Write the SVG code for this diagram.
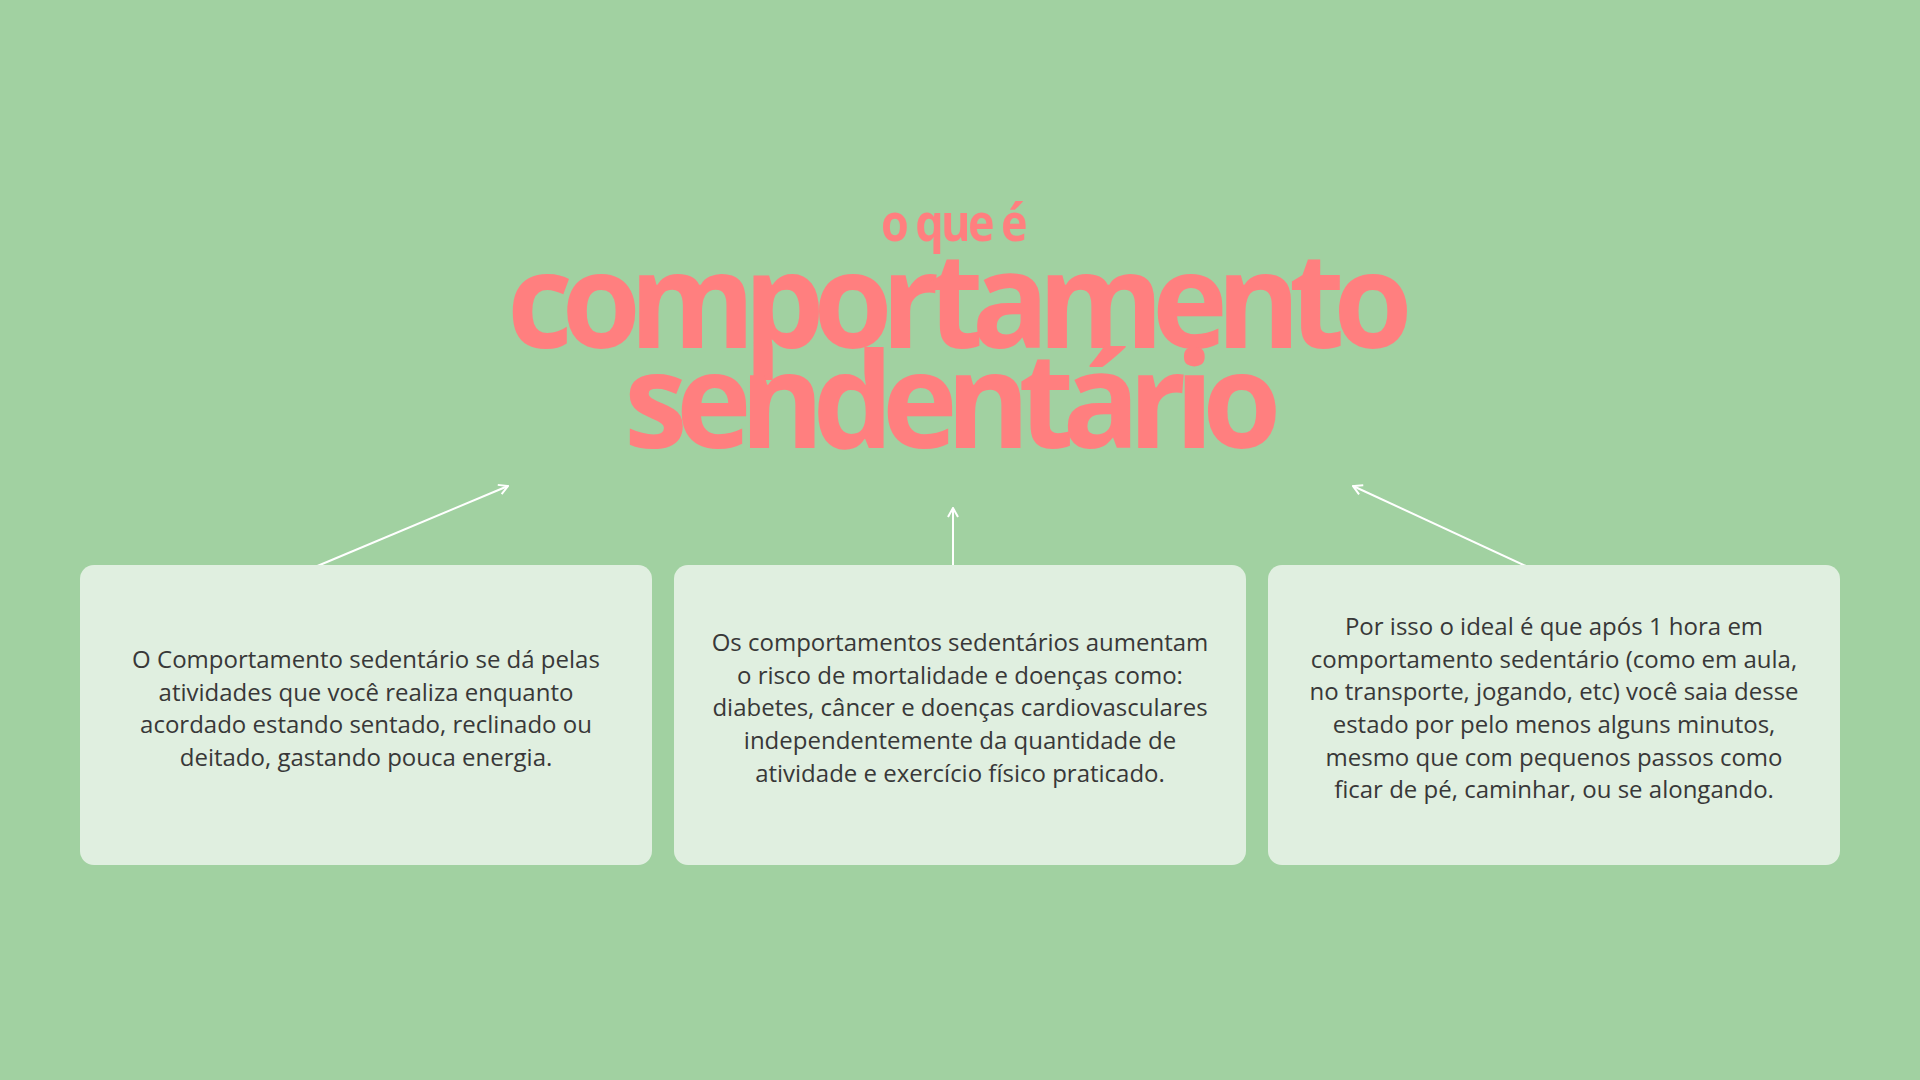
<svg xmlns="http://www.w3.org/2000/svg" width="1920" height="1080" viewBox="0 0 1920 1080">
<defs>
<style>
.bg{fill:#A1D1A1}
.box{fill:#E0EFE0}
.title{font-family:"Open Sans","Liberation Sans",sans-serif;font-weight:700;fill:#FF7F7F;text-anchor:middle}
.body{font-family:"Open Sans","Liberation Sans",sans-serif;font-size:24px;fill:#383838;text-anchor:middle}
.conn{stroke:#FFFFFF;stroke-width:2;fill:none;marker-end:url(#arr)}
</style>
<marker id="arr" viewBox="0 0 12 12" refX="11" refY="6" markerWidth="12" markerHeight="12" markerUnits="userSpaceOnUse" orient="auto">
<path d="M2,1 L11,6 L2,11" fill="none" stroke="#FFFFFF" stroke-width="2"/>
</marker>
</defs>
<rect class="bg" x="0" y="0" width="1920" height="1080"/>
<g id="title">
<text class="title" x="953" y="241" font-size="52" letter-spacing="-3" textLength="144" lengthAdjust="spacingAndGlyphs">o que é</text>
<text class="title" x="954" y="348" font-size="133" letter-spacing="-12" textLength="894" lengthAdjust="spacingAndGlyphs">comportamento</text>
<text class="title" x="947" y="448" font-size="133" letter-spacing="-12" textLength="646" lengthAdjust="spacingAndGlyphs">sendentário</text>
</g>
<g id="connectors">
<line class="conn" x1="315" y1="567" x2="508" y2="486"/>
<line class="conn" x1="953" y1="567" x2="953" y2="508"/>
<line class="conn" x1="1528" y1="567" x2="1353" y2="486"/>
</g>
<g id="node1">
<rect class="box" x="80" y="565" width="572" height="300" rx="14"/>
<text class="body" x="366" y="668">O Comportamento sedentário se dá pelas</text>
<text class="body" x="366" y="701">atividades que você realiza enquanto</text>
<text class="body" x="366" y="733">acordado estando sentado, reclinado ou</text>
<text class="body" x="366" y="766">deitado, gastando pouca energia.</text>
</g>
<g id="node2">
<rect class="box" x="674" y="565" width="572" height="300" rx="14"/>
<text class="body" x="960" y="651">Os comportamentos sedentários aumentam</text>
<text class="body" x="960" y="684">o risco de mortalidade e doenças como:</text>
<text class="body" x="960" y="716">diabetes, câncer e doenças cardiovasculares</text>
<text class="body" x="960" y="749">independentemente da quantidade de</text>
<text class="body" x="960" y="782">atividade e exercício físico praticado.</text>
</g>
<g id="node3">
<rect class="box" x="1268" y="565" width="572" height="300" rx="14"/>
<text class="body" x="1554" y="635">Por isso o ideal é que após 1 hora em</text>
<text class="body" x="1554" y="668">comportamento sedentário (como em aula,</text>
<text class="body" x="1554" y="700">no transporte, jogando, etc) você saia desse</text>
<text class="body" x="1554" y="733">estado por pelo menos alguns minutos,</text>
<text class="body" x="1554" y="766">mesmo que com pequenos passos como</text>
<text class="body" x="1554" y="798">ficar de pé, caminhar, ou se alongando.</text>
</g>
</svg>
